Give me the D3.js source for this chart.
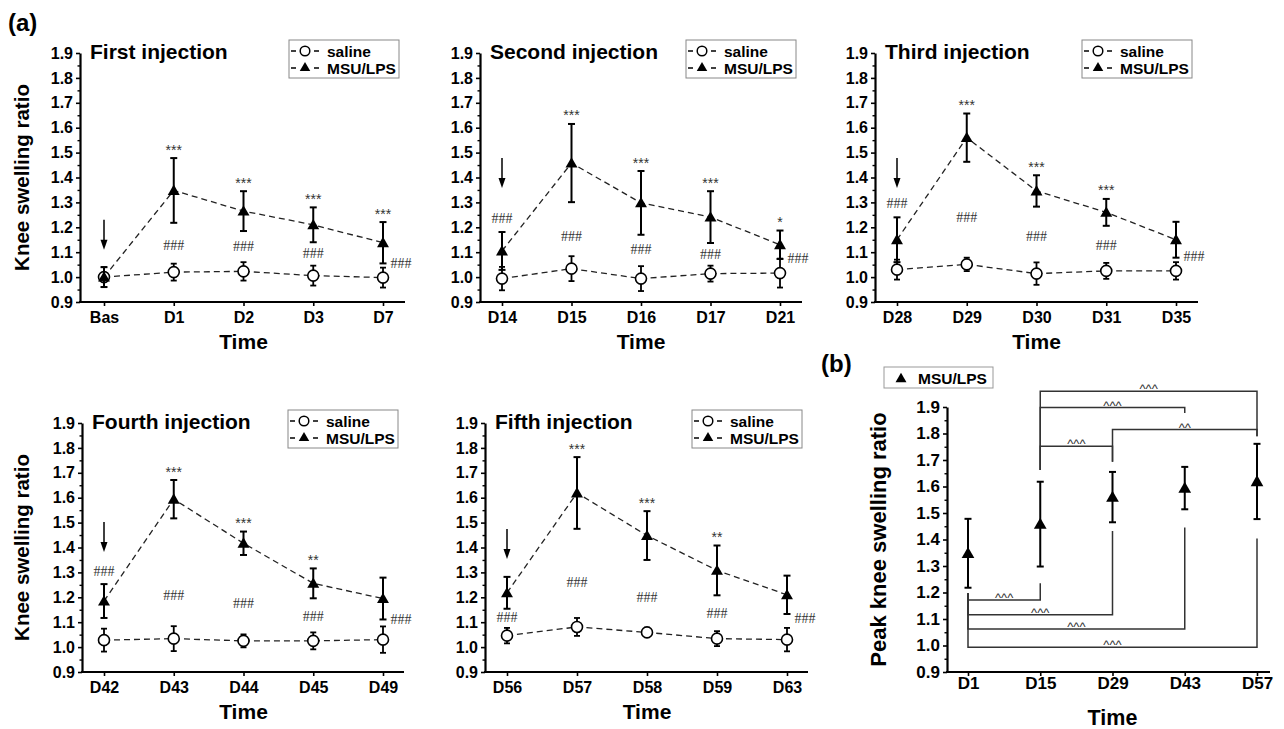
<!DOCTYPE html>
<html><head><meta charset="utf-8">
<script src="https://cdn.jsdelivr.net/npm/d3@7"></script>
<style>body{margin:0;background:#fff}svg{display:block}</style>
</head><body>
<svg id="c" width="1284" height="729"></svg>
<script>
// ---------------- data ----------------
const yTicks = [0.9,1.0,1.1,1.2,1.3,1.4,1.5,1.6,1.7,1.8,1.9];
const yTickLabels = ["0.9","1.0","1.1","1.2","1.3","1.4","1.5","1.6","1.7","1.8","1.9"];
const yMinorTicks = [0.95,1.05,1.15,1.25,1.35,1.45,1.55,1.65,1.75,1.85];
const seriesNames = ["saline","MSU/LPS"];
const titles = ["First injection","Second injection","Third injection","Fourth injection","Fifth injection"];

const cats1 = ["Bas","D1","D2","D3","D7"];
const msu1 = [1.00,1.348,1.265,1.21,1.138];
const msuErr1 = [0.04,0.13,0.08,0.07,0.083];
const sal1 = [1.00,1.02,1.023,1.006,0.998];
const salErr1 = [0.04,0.034,0.037,0.04,0.04];
const stars1 = ["","***","***","***","***"];
const hash1 = [null,1.128,1.121,1.094,1.054];
const arrow1 = 1.11;

const cats2 = ["D14","D15","D16","D17","D21"];
const msu2 = [1.105,1.458,1.298,1.241,1.13];
const msuErr2 = [0.076,0.157,0.128,0.104,0.057];
const sal2 = [0.994,1.034,0.994,1.014,1.016];
const salErr2 = [0.047,0.05,0.05,0.032,0.058];
const stars2 = ["","***","***","***","*"];
const hash2 = [1.235,1.164,1.11,1.091,1.074];
const arrow2 = 1.358;

const cats3 = ["D28","D29","D30","D31","D35"];
const msu3 = [1.15,1.56,1.346,1.26,1.15];
const msuErr3 = [0.09,0.097,0.063,0.054,0.072];
const sal3 = [1.03,1.051,1.014,1.025,1.025];
const salErr3 = [0.04,0.027,0.045,0.032,0.035];
const stars3 = ["","***","***","***",""];
const hash3 = [1.295,1.239,1.164,1.128,1.081];
const arrow3 = 1.358;

const cats4 = ["D42","D43","D44","D45","D49"];
const msu4 = [1.185,1.594,1.417,1.256,1.195];
const msuErr4 = [0.068,0.077,0.047,0.06,0.084];
const sal4 = [1.028,1.034,1.025,1.025,1.03];
const salErr4 = [0.046,0.05,0.026,0.034,0.053];
const stars4 = ["","***","***","**",""];
const hash4 = [1.305,1.206,1.175,1.121,1.111];
const arrow4 = 1.382;

const cats5 = ["D56","D57","D58","D59","D63"];
const msu5 = [1.218,1.619,1.448,1.308,1.21];
const msuErr5 = [0.064,0.144,0.098,0.1,0.077];
const sal5 = [1.046,1.081,1.059,1.034,1.03];
const salErr5 = [0.031,0.036,0.019,0.03,0.047];
const stars5 = ["","***","***","**",""];
const hash5 = [1.117,1.258,1.2,1.135,1.113];
const arrow5 = 1.354;

const catsB = ["D1","D15","D29","D43","D57"];
const peakB = [1.348,1.458,1.56,1.594,1.619];
const peakErrB = [0.13,0.16,0.095,0.08,0.142];
const bracketFrom = ["D1","D1","D1","D1","D15","D15","D29","D15"];
const bracketTo = ["D15","D29","D43","D57","D29","D43","D57","D57"];
const bracketLevel = [1.172,1.116,1.062,0.993,1.752,1.898,1.815,1.959];
const bracketFromEnd = [1.197,1.197,1.197,1.197,1.662,1.662,1.693,1.662];
const bracketToEnd = [1.235,1.432,1.445,1.404,1.693,1.877,1.79,1.79];
const bracketLabel = ["^^^","^^^","^^^","^^^","^^^","^^^","^^","^^^"];

// ---------------- layout ----------------
const FONT = "'Liberation Sans', Arial, Helvetica, sans-serif";
const svg = d3.select("#c");
const panels = [
  {cats:cats1,msu:msu1,msuErr:msuErr1,sal:sal1,salErr:salErr1,stars:stars1,hash:hash1,arrow:arrow1,title:titles[0],axL:80,axR:405,c0:104,c1:383,top:53,bottom:302,ylab:true},
  {cats:cats2,msu:msu2,msuErr:msuErr2,sal:sal2,salErr:salErr2,stars:stars2,hash:hash2,arrow:arrow2,title:titles[1],axL:480,axR:802,c0:502,c1:780,top:53,bottom:302},
  {cats:cats3,msu:msu3,msuErr:msuErr3,sal:sal3,salErr:salErr3,stars:stars3,hash:hash3,arrow:arrow3,title:titles[2],axL:875,axR:1198,c0:897,c1:1176,top:53,bottom:302},
  {cats:cats4,msu:msu4,msuErr:msuErr4,sal:sal4,salErr:salErr4,stars:stars4,hash:hash4,arrow:arrow4,title:titles[3],axL:82,axR:404,c0:104,c1:383,top:423,bottom:672,ylab:true},
  {cats:cats5,msu:msu5,msuErr:msuErr5,sal:sal5,salErr:salErr5,stars:stars5,hash:hash5,arrow:arrow5,title:titles[4],axL:485,axR:808,c0:507,c1:787,top:423,bottom:672}
];

const triSym = d3.symbol().type(d3.symbolTriangle);

function axes(g, x, y, p, tickFont, xPad) {
  g.append("g").attr("transform",`translate(${p.axL},0)`)
    .call(d3.axisLeft(y).tickValues(yMinorTicks).tickSize(2.5).tickFormat("").tickSizeOuter(0))
    .call(s=>s.select(".domain").remove())
    .selectAll("line").attr("stroke","#000").attr("stroke-width",1.4);
  const ya = g.append("g").attr("transform",`translate(${p.axL},0)`)
    .call(d3.axisLeft(y).tickValues(yTicks).tickFormat((d,i)=>yTickLabels[i]).tickSize(4).tickPadding(3).tickSizeOuter(0));
  ya.select(".domain").attr("stroke","#000").attr("stroke-width",2.2);
  ya.selectAll("line").attr("stroke","#000").attr("stroke-width",1.6);
  ya.selectAll("text").attr("font-family",FONT).attr("font-weight","bold").attr("font-size",tickFont).attr("fill","#000");
  const xa = g.append("g").attr("transform",`translate(0,${p.bottom})`)
    .call(d3.axisBottom(x).tickSize(4).tickPadding(xPad).tickSizeOuter(0));
  xa.select(".domain").remove();
  xa.selectAll("line").attr("stroke","#000").attr("stroke-width",1.6);
  xa.selectAll("text").attr("font-family",FONT).attr("font-weight","bold").attr("font-size",tickFont).attr("fill","#000");
  g.append("line").attr("x1",p.axL-1).attr("x2",p.axR).attr("y1",p.bottom).attr("y2",p.bottom)
    .attr("stroke","#000").attr("stroke-width",2.2);
}

function errBar(g, xp, yTop, yBot, w, sw) {
  g.append("line").attr("x1",xp).attr("x2",xp).attr("y1",yTop).attr("y2",yBot).attr("stroke","#000").attr("stroke-width",sw);
  [yTop,yBot].forEach(yy=>g.append("line").attr("x1",xp-w/2).attr("x2",xp+w/2).attr("y1",yy).attr("y2",yy).attr("stroke","#000").attr("stroke-width",sw));
}

function legendBox(g, x0, y0) {
  g.append("rect").attr("x",x0).attr("y",y0).attr("width",110).attr("height",38)
    .attr("fill","#fff").attr("stroke","#888").attr("stroke-width",1);
  [0,1].forEach(k=>{
    const cy = y0 + 11 + k*17;
    g.append("line").attr("x1",x0+2).attr("x2",x0+7).attr("y1",cy).attr("y2",cy).attr("stroke","#000").attr("stroke-width",1.5);
    g.append("line").attr("x1",x0+25).attr("x2",x0+30).attr("y1",cy).attr("y2",cy).attr("stroke","#000").attr("stroke-width",1.5);
    if (k===0) g.append("circle").attr("cx",x0+16).attr("cy",cy).attr("r",4.8).attr("fill","#fff").attr("stroke","#000").attr("stroke-width",1.5);
    else g.append("path").attr("d",triSym.size(48)()).attr("transform",`translate(${x0+16},${cy})`).attr("fill","#000");
    g.append("text").attr("x",x0+38).attr("y",cy+5.5).text(seriesNames[k])
      .attr("font-family",FONT).attr("font-weight","bold").attr("font-size",15.5).attr("fill","#000");
  });
}

panels.forEach(p=>{
  const g = svg.append("g");
  const x = d3.scalePoint().domain(p.cats).range([p.c0,p.c1]);
  const y = d3.scaleLinear().domain([0.9,1.9]).range([p.bottom,p.top]);
  axes(g,x,y,p,16,6);
  g.append("text").attr("x",p.axL+10).attr("y",p.top+6).text(p.title)
    .attr("font-family",FONT).attr("font-weight","bold").attr("font-size",21).attr("fill","#000");
  g.append("text").attr("x",(p.c0+p.c1)/2).attr("y",p.bottom+47).attr("text-anchor","middle").text("Time")
    .attr("font-family",FONT).attr("font-weight","bold").attr("font-size",21).attr("fill","#000");
  if (p.ylab) {
    g.append("text").attr("transform",`translate(29,${(p.top+p.bottom)/2}) rotate(-90)`).attr("text-anchor","middle")
      .text("Knee swelling ratio").attr("font-family",FONT).attr("font-weight","bold").attr("font-size",20.5).attr("fill","#000");
  }
  legendBox(g, p.axR-6-110, p.top-13);
  const line = d3.line().x((d,i)=>x(p.cats[i])).y(d=>y(d));
  [p.sal,p.msu].forEach(arr=>{
    g.append("path").attr("d",line(arr)).attr("fill","none").attr("stroke","#222").attr("stroke-width",1.3).attr("stroke-dasharray","6,4");
  });
  p.sal.forEach((v,i)=>{
    errBar(g,x(p.cats[i]),y(v+p.salErr[i]),y(v-p.salErr[i]),6,1.8);
  });
  p.sal.forEach((v,i)=>{
    g.append("circle").attr("cx",x(p.cats[i])).attr("cy",y(v)).attr("r",5.5).attr("fill","#fff").attr("stroke","#000").attr("stroke-width",1.6);
  });
  p.msu.forEach((v,i)=>{
    errBar(g,x(p.cats[i]),y(v+p.msuErr[i]),y(v-p.msuErr[i]),7,2);
    g.append("path").attr("d",triSym.size(62)()).attr("transform",`translate(${x(p.cats[i])},${y(v)+1})`).attr("fill","#000");
    if (p.stars[i]) g.append("text").attr("x",x(p.cats[i])).attr("y",y(v+p.msuErr[i])-3.5).attr("text-anchor","middle")
      .text(p.stars[i]).attr("font-family",FONT).attr("font-size",14).attr("fill","#333");
    if (p.hash[i]!=null) g.append("text").attr("x",x(p.cats[i])+(i===p.cats.length-1?18:0)).attr("y",y(p.hash[i])+4.5)
      .attr("text-anchor","middle").text("###").attr("font-family","'Liberation Serif', serif").attr("font-size",14).attr("fill","#333");
  });
  const ax = x(p.cats[0]), ty = y(p.arrow);
  g.append("line").attr("x1",ax).attr("x2",ax).attr("y1",ty-30).attr("y2",ty-8).attr("stroke","#000").attr("stroke-width",1.5);
  g.append("path").attr("d",`M${ax-3.5},${ty-10}L${ax+3.5},${ty-10}L${ax},${ty}Z`).attr("fill","#000");
});

// ---------------- panel (b) ----------------
(function(){
  const p = {axL:947,axR:1270,c0:968,c1:1257,top:407,bottom:672};
  const g = svg.append("g");
  const x = d3.scalePoint().domain(catsB).range([p.c0,p.c1]);
  const y = d3.scaleLinear().domain([0.9,1.9]).range([p.bottom,p.top]);
  axes(g,x,y,p,17,1);
  g.append("text").attr("x",(p.c0+p.c1)/2).attr("y",p.bottom+53).attr("text-anchor","middle").text("Time")
    .attr("font-family",FONT).attr("font-weight","bold").attr("font-size",21.5).attr("fill","#000");
  g.append("text").attr("transform",`translate(886,${(p.top+p.bottom)/2}) rotate(-90)`).attr("text-anchor","middle")
    .text("Peak knee swelling ratio").attr("font-family",FONT).attr("font-weight","bold").attr("font-size",22).attr("fill","#000");
  g.append("rect").attr("x",884).attr("y",367).attr("width",109).attr("height",21).attr("fill","#fff").attr("stroke","#999").attr("stroke-width",1);
  g.append("path").attr("d",triSym.size(52)()).attr("transform","translate(901,379)").attr("fill","#000");
  g.append("text").attr("x",918).attr("y",384).text(seriesNames[1]).attr("font-family",FONT).attr("font-weight","bold").attr("font-size",15.5).attr("fill","#000");
  bracketFrom.forEach((a,k)=>{
    const xa = x(a), xb = x(bracketTo[k]), ly = y(bracketLevel[k]);
    g.append("path").attr("d",`M${xa},${y(bracketFromEnd[k])}L${xa},${ly}L${xb},${ly}L${xb},${y(bracketToEnd[k])}`)
      .attr("stroke","#333").attr("stroke-width",1.5).attr("fill","none");
    g.append("text").attr("x",(xa+xb)/2).attr("y",ly+2).attr("text-anchor","middle").text(bracketLabel[k])
      .attr("font-family",FONT).attr("font-size",13).attr("fill","#333");
  });
  peakB.forEach((v,i)=>{
    errBar(g,x(catsB[i]),y(v+peakErrB[i]),y(v-peakErrB[i]),7,2);
    g.append("path").attr("d",triSym.size(70)()).attr("transform",`translate(${x(catsB[i])},${y(v)+1})`).attr("fill","#000");
  });
})();

svg.append("text").attr("x",8).attr("y",31).text("(a)").attr("font-family",FONT).attr("font-weight","bold").attr("font-size",24).attr("fill","#000");
svg.append("text").attr("x",821).attr("y",372).text("(b)").attr("font-family",FONT).attr("font-weight","bold").attr("font-size",24).attr("fill","#000");
</script>
</body></html>
